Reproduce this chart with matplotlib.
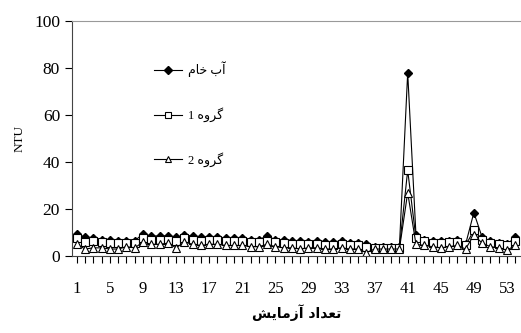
import matplotlib
matplotlib.use('Agg')
import matplotlib.pyplot as plt

# donnees (NTU)
essais = list(range(1, 55))
ab_kham = [9.5, 8, 7.5, 7, 7, 6.5, 6.5, 6.5, 9.5, 8.5, 8.5, 8.5, 8, 9, 8.5, 8, 8, 8, 7.5, 7.5,
           7.5, 7, 7, 8.5, 7, 7, 6.5, 6.5, 6, 6.5, 6, 6, 6.5, 5.5, 5.5, 5, 4, 4, 4, 4,
           78, 9, 7, 6.5, 6.5, 6.5, 7, 5, 18.5, 8, 6.5, 5.5, 5, 8]
goroh1 = [7.5, 6, 6.5, 6, 5.5, 5.5, 5.5, 5.5, 7.5, 7, 7, 7, 6.5, 7.5, 7, 6.5, 7, 7, 6.5, 6.5,
          6.5, 6, 6, 6.5, 6, 5.5, 5, 5, 5, 5, 4.5, 4.5, 5, 4.5, 4.5, 4, 3.5, 3.5, 3.5, 3.5,
          36.5, 7.5, 6.5, 5.5, 5.5, 6, 6, 4.5, 11, 7, 5.5, 5, 4.5, 6.5]
goroh2 = [5, 3, 3.5, 3.5, 3, 3, 4, 3.5, 6, 5, 5, 5.5, 3.5, 6, 5, 4.5, 5, 5, 4.5, 4.5,
          4.5, 4, 4, 5, 4, 3.5, 3.5, 3, 3.5, 3.5, 3, 3, 3.5, 3, 3, 1.5, 3, 3, 3, 3,
          27, 5, 4.5, 4, 3.5, 4, 4.5, 3, 9, 5.5, 4, 3.5, 2.5, 4.5]

# textes persans en formes de presentation (ordre visuel)
lab_raw = '\uFEE1\uFE8E\uFEA7 \uFE8F\uFE81'
lab_g1 = '1 \uFEE9\uFEED\uFEAE\uFB94'
lab_g2 = '2 \uFEE9\uFEED\uFEAE\uFB94'
xlab = '\uFEB6\uFBFE\uFE8E\uFEE3\uFEAF\uFE81 \uFEA9\uFE8D\uFEAA\uFECC\uFE97'

serif = ['Liberation Serif', 'DejaVu Sans']
plt.rcParams['font.family'] = serif

fig = plt.figure(figsize=(5.21, 3.33), dpi=100)
ax = fig.add_axes([0.138, 0.231, 0.862, 0.706])

ax.plot(essais, ab_kham, color='black', lw=0.8, marker='D', ms=4.5,
        mfc='black', mec='black', label=lab_raw)
ax.plot(essais, goroh1, color='black', lw=0.8, marker='s', ms=5.5,
        mfc='white', mec='black', mew=0.8, label=lab_g1)
ax.plot(essais, goroh2, color='black', lw=0.8, marker='^', ms=6,
        mfc='white', mec='black', mew=0.8, label=lab_g2)

ax.set_xlim(0.4, 54.7)
ax.set_ylim(0, 100)
ax.set_yticks([0, 20, 40, 60, 80, 100])
ax.set_xticks(range(1, 55, 4))
ax.set_xticks(range(1, 55), minor=True)
ax.tick_params(axis='y', labelsize=12.5, length=5, width=0.8, direction='out')
ax.tick_params(axis='x', which='both', labelsize=12, length=5, width=0.8,
               direction='out', pad=13)

ax.spines['right'].set_visible(False)
ax.spines['top'].set_color('#999999')
ax.spines['top'].set_linewidth(0.8)
ax.spines['left'].set_color('#444444')
ax.spines['bottom'].set_color('#444444')

ax.set_ylabel('NTU', fontsize=9.5, labelpad=6)
ax.set_xlabel(xlab, fontsize=10, fontweight='bold', labelpad=5,
              family=['DejaVu Sans'])

leg = ax.legend(loc='upper left', bbox_to_anchor=(0.158, 0.875), frameon=False,
                handlelength=2.2, labelspacing=2.4, handletextpad=0.5,
                markerscale=0.8,
                prop={'family': ['Liberation Serif', 'DejaVu Sans'], 'size': 9})

fig.savefig('out.png', dpi=100)
